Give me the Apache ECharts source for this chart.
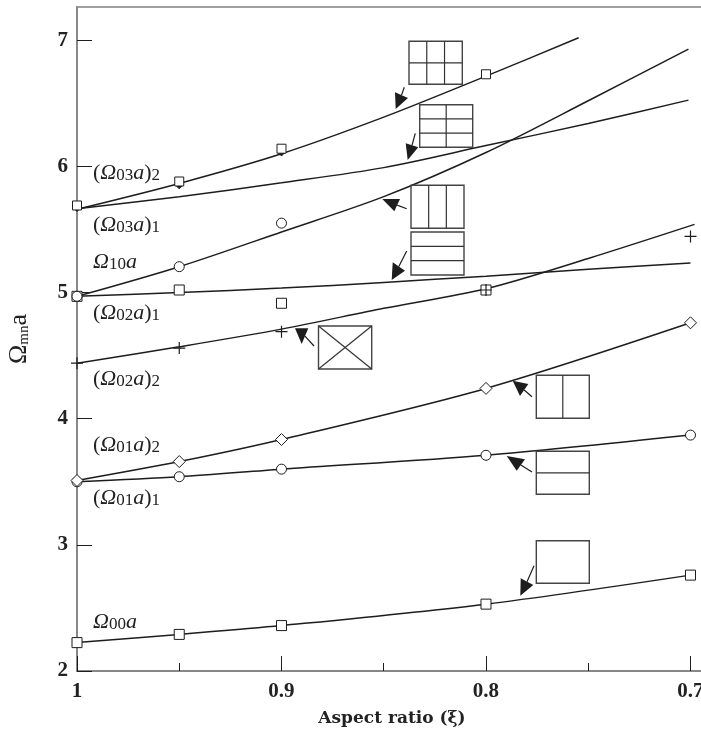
<!DOCTYPE html>
<html><head><meta charset="utf-8">
<style>html,body{margin:0;padding:0;background:#fff;overflow:hidden}#c{width:701px;height:734px}</style>
<script src="https://cdn.jsdelivr.net/npm/echarts@6/dist/echarts.min.js"></script>
</head><body><div id="c"></div>
<script>
// ---- data ----
const markerXi = [1, 0.95, 0.9, 0.8, 0.7];
const xTickLabels = [1, 0.9, 0.8, 0.7];
const xMinorTicks = [0.95, 0.85, 0.75];
const yTickLabels = [2, 3, 4, 5, 6, 7];

const omega00 = [2.225, 2.29, 2.36, 2.53, 2.76];
const omega01_1 = [3.50, 3.54, 3.60, 3.71, 3.87];
const omega01_2 = [3.51, 3.66, 3.835, 4.24, 4.76];

const curve02_2 = [[1,4.44],[0.95,4.57],[0.9,4.71],[0.85,4.875],[0.8,5.03],[0.75,5.27],[0.698,5.54]];
const curve10sq = [[1,4.97],[0.95,5.00],[0.9,5.035],[0.85,5.08],[0.8,5.13],[0.75,5.185],[0.7,5.235]];
const curve03_1 = [[1,5.665],[0.95,5.76],[0.9,5.87],[0.85,5.99],[0.8,6.165],[0.75,6.34],[0.701,6.525]];
const curve10 = [[1,4.97],[0.95,5.205],[0.9,5.48],[0.85,5.76],[0.8,6.11],[0.75,6.52],[0.701,6.93]];
const curve03_2 = [[1,5.66],[0.95,5.865],[0.9,6.10],[0.85,6.39],[0.8,6.715],[0.7547,7.02]];

const plusPts = [[1,4.44],[0.95,4.56],[0.9,4.69],[0.8,5.02],[0.7,5.445]];
const squarePts10 = [[1,4.97],[0.95,5.02],[0.9,4.915],[0.8,5.02]];
const circlePts10 = [[1,4.97],[0.95,5.205],[0.9,5.55]];
const squarePts03 = [[1,5.69],[0.95,5.88],[0.9,6.14],[0.8,6.73]];
const filledPts03 = [[1,5.67],[0.95,5.85],[0.9,6.11]];

const labels = [
  ['{p|(}{i|Ω}{s|03}{i|a}{p|)}{s|2}', 171],
  ['{p|(}{i|Ω}{s|03}{i|a}{p|)}{s|1}', 223],
  ['{i|Ω}{s|10}{i|a}', 260],
  ['{p|(}{i|Ω}{s|02}{i|a}{p|)}{s|1}', 311],
  ['{p|(}{i|Ω}{s|02}{i|a}{p|)}{s|2}', 377],
  ['{p|(}{i|Ω}{s|01}{i|a}{p|)}{s|2}', 443],
  ['{p|(}{i|Ω}{s|01}{i|a}{p|)}{s|1}', 496],
  ['{i|Ω}{s|00}{i|a}', 620]
];

// ---- helpers ----
const INK = '#1d1d1d';
const FONT = '"Liberation Serif", serif';
const zip = (xs, ys) => xs.map((x, i) => [x, ys[i]]);
const curve = pts => ({type:'line', data:pts, smooth:0.3, showSymbol:false, symbol:'none', clip:false,
  lineStyle:{color:INK, width:1.5}, silent:true, z:2});
const marks = (pts, symbol, size, fill) => ({type:'line', data:pts, symbol, symbolSize:size, showSymbol:true, showAllSymbol:true,
  clip:false, lineStyle:{width:0, opacity:0}, itemStyle:{color:fill||'#fff', borderColor:INK, borderWidth:1}, silent:true, z:4});

const PLUS = 'path://M5.4 0H6.6V5.4H12V6.6H6.6V12H5.4V6.6H0V5.4H5.4Z';

function box(x0, y0, x1, y1, cols, rows, cross) {
  const out = [];
  const seg = (a,b,c,d,w) => out.push({type:'line', shape:{x1:a,y1:b,x2:c,y2:d}, style:{stroke:'#333', lineWidth:w||1.2}, z:10});
  out.push({type:'rect', shape:{x:x0,y:y0,width:x1-x0,height:y1-y0}, style:{fill:'none', stroke:'#444', lineWidth:1.4}, z:10});
  for (let i=1;i<cols;i++){const x=x0+(x1-x0)*i/cols; seg(x,y0,x,y1);}
  for (let i=1;i<rows;i++){const y=y0+(y1-y0)*i/rows; seg(x0,y,x1,y);}
  if (cross){seg(x0,y0,x1,y1); seg(x0,y1,x1,y0);}
  return out;
}
function arrow(tail, tip, b1, b2) {
  const mid = [(b1[0]+b2[0])/2,(b1[1]+b2[1])/2];
  return [
    {type:'line', shape:{x1:tail[0],y1:tail[1],x2:mid[0],y2:mid[1]}, style:{stroke:INK, lineWidth:1.2}, z:11},
    {type:'polygon', shape:{points:[tip,b1,b2]}, style:{fill:INK, stroke:null}, z:11}
  ];
}

const rich = {
  p:{fontFamily:FONT, fontSize:22, color:'#222', verticalAlign:'bottom', lineHeight:26},
  i:{fontFamily:FONT, fontSize:22, fontStyle:'italic', color:'#222', verticalAlign:'bottom', lineHeight:26},
  s:{fontFamily:FONT, fontSize:17, color:'#222', verticalAlign:'bottom', lineHeight:17, padding:[8,0,0,0]}
};
const textEls = labels.map(([t,y]) => ({type:'text', x:93, y, z:12,
  style:{text:t, rich, verticalAlign:'middle', align:'left', fontFamily:FONT, fontSize:22, fill:'#222'}}));

const graphics = [].concat(
  box(409,41.3,462.3,84.3,3,2), box(419.7,104.7,472.7,147.3,2,3),
  box(411,185.3,464,228.3,3,1), box(411,232,464,275,1,3),
  box(318.5,326,371.7,369,1,1,true), box(536.3,375.3,589.3,418.3,2,1),
  box(536.3,451.3,589.3,494.3,1,2), box(536.3,540.7,589.3,583.3,1,1),
  arrow([404.3,87.3],[395.7,109],[395,92.3],[408,98]),
  arrow([415.3,133.3],[407.7,160],[405.7,143.3],[418.3,147.3]),
  arrow([406.7,208.7],[382.3,199],[400,199],[394.3,211.3]),
  arrow([406.7,251],[391.7,280],[392.7,262.3],[405,270.7]),
  arrow([314,346],[295,328.3],[308.3,328.3],[301.7,344]),
  arrow([532,396.7],[512.7,380.7],[528.3,384],[520,396]),
  arrow([532,472],[506.7,456],[525,459.3],[516.7,470.7]),
  arrow([534,565.7],[520.3,595.7],[520.7,578.3],[533.3,585]),
  textEls
);

const xBase = {type:'value', inverse:true, min:0.69193, max:1, position:'bottom', splitLine:{show:false}};
const chart = echarts.init(document.getElementById('c'), null, {renderer:'canvas'});
chart.setOption({
  animation:false,
  backgroundColor:'#fff',
  grid:{left:77, top:7, width:630, height:664, containLabel:false, outerBoundsMode:'none', show:true, borderColor:'#808080', borderWidth:1.5, backgroundColor:'transparent'},
  xAxis:[
    Object.assign({}, xBase, {
      name:'Aspect ratio (ξ)', nameLocation:'middle', nameGap:39,
      nameTextStyle:{fontFamily:'"DejaVu Serif", serif', fontSize:17, fontWeight:'bold', color:'#222'},
      axisLine:{show:true, lineStyle:{color:'#808080', width:1.5}},
      axisTick:{show:true, inside:true, length:15, customValues:xTickLabels, lineStyle:{color:INK, width:1}},
      axisLabel:{show:true, customValues:xTickLabels, margin:10, fontFamily:FONT, fontSize:21, fontWeight:'bold', color:'#222', formatter:v=>String(v), hideOverlap:false}
    }),
    Object.assign({}, xBase, {
      axisLine:{show:false},
      axisTick:{show:true, inside:true, length:8, customValues:xMinorTicks, lineStyle:{color:INK, width:1}},
      axisLabel:{show:false}
    })
  ],
  yAxis:{
    type:'value', min:2, max:7.2633, interval:1, splitLine:{show:false},
    name:'{o|Ω}{m|mn}{o|a}', nameLocation:'middle', nameGap:45,
    nameTextStyle:{rich:{
      o:{fontFamily:FONT, fontSize:26, color:'#222', verticalAlign:'bottom', lineHeight:28},
      m:{fontFamily:FONT, fontSize:15, color:'#222', verticalAlign:'bottom', lineHeight:15, padding:[9,0,0,0]}
    }},
    axisLine:{show:true, lineStyle:{color:'#808080', width:1.5}},
    axisTick:{show:true, inside:true, length:15, customValues:yTickLabels, lineStyle:{color:INK, width:1}},
    axisLabel:{show:true, customValues:yTickLabels, margin:9, fontFamily:FONT, fontSize:21, fontWeight:'bold', color:'#222'}
  },
  series:[
    curve(zip(markerXi, omega00)),
    curve(zip(markerXi, omega01_1)),
    curve(zip(markerXi, omega01_2)),
    curve(curve02_2), curve(curve10sq), curve(curve03_1), curve(curve10), curve(curve03_2),
    marks(filledPts03, 'diamond', 7, INK),
    marks(zip(markerXi, omega00), 'rect', 10),
    marks(zip(markerXi, omega01_1), 'circle', 10),
    marks(zip(markerXi, omega01_2), 'diamond', 12),
    marks(squarePts10, 'rect', 10),
    marks(circlePts10, 'circle', 10),
    marks(squarePts03, 'rect', 9),
    Object.assign(marks(plusPts, PLUS, 12, INK), {itemStyle:{color:INK, borderWidth:0}})
  ],
  graphic:{elements:graphics}
});
</script></body></html>
